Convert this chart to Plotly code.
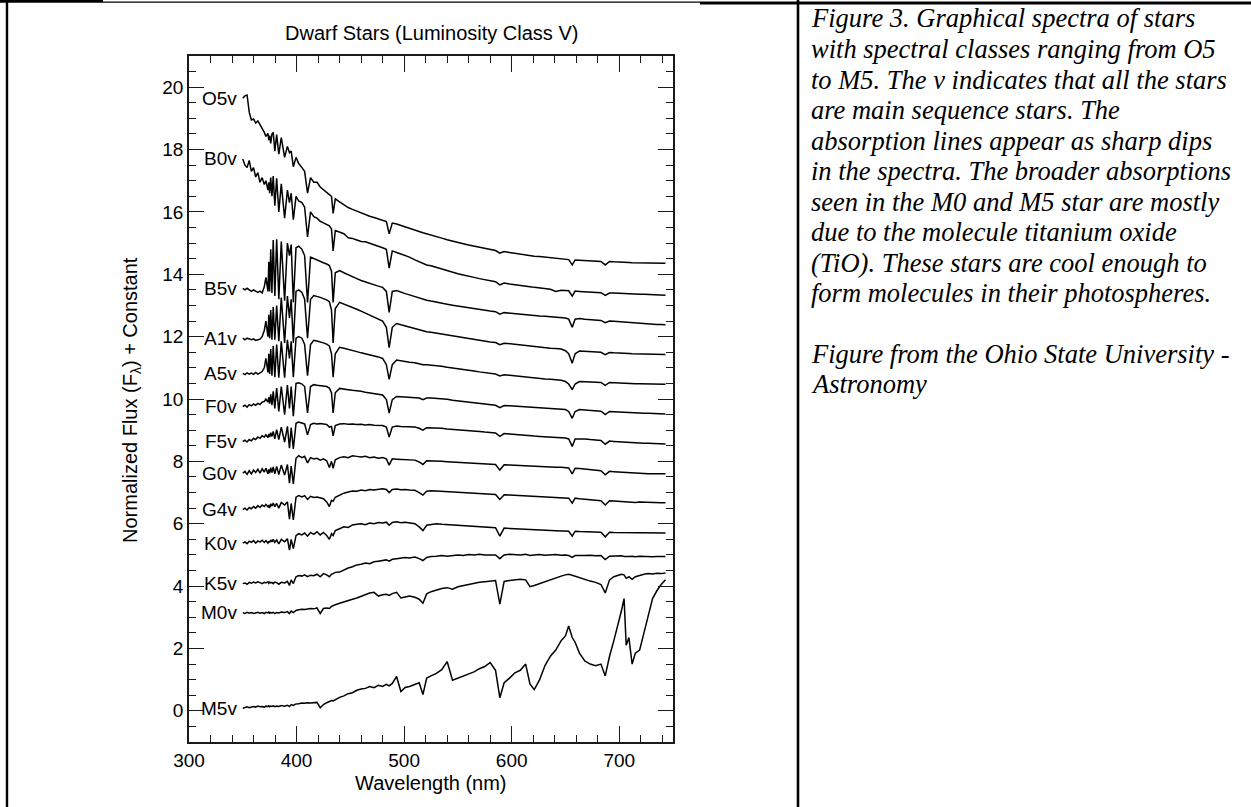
import plotly.graph_objects as go

# ---------------- data ----------------
WAVELENGTH = [
    350, 352, 354, 356, 358, 360, 362, 364, 366, 368,
    370, 371.5, 373.4, 374.2, 375.0, 376.0, 377.1, 378.3, 379.8, 381.5,
    383.5, 385.8, 388.9, 391.5, 393.4, 395.0, 397.0, 399.5, 402, 405,
    407.5, 410.2, 413, 416, 419, 422, 425, 428, 430.5, 432.5,
    434.0, 436, 440, 444, 448, 452, 456, 460, 464, 468,
    472, 476, 480, 483.5, 486.1, 489, 493, 497, 501, 505,
    510, 514, 517.5, 521, 525, 530, 535, 540, 545, 550,
    555, 560, 565, 570, 575, 580, 585, 589, 593, 598,
    603, 608, 613, 617, 621, 626, 631, 636, 641, 646,
    650, 653, 656.3, 659, 663, 668, 673, 678, 683, 687,
    691, 695, 699, 702, 704.5, 706.5, 709, 712, 715, 719,
    723, 727, 731, 735, 739, 743,
]

O5V = [
    19.65, 19.72, 19.75, 19.2, 18.95, 18.98, 18.85, 18.92, 18.8, 18.68,
    18.55, 18.42, 18.52, 18.3, 18.45, 18.2, 18.5, 18.55, 17.95, 18.48,
    17.85, 18.38, 17.75, 18.1, 17.9, 17.95, 17.45, 17.75, 17.55, 17.42,
    17.3, 16.6, 17.1, 16.95, 16.95, 16.8, 16.72, 16.62, 16.56, 16.5,
    15.95, 16.42, 16.32, 16.22, 16.14, 16.08, 16.02, 15.96, 15.92, 15.86,
    15.82, 15.77, 15.72, 15.69, 15.3, 15.64, 15.61, 15.56, 15.52, 15.47,
    15.41, 15.37, 15.33, 15.3, 15.26, 15.21, 15.16, 15.11, 15.06, 15.01,
    14.98, 14.94, 14.9, 14.86, 14.82, 14.79, 14.76, 14.68, 14.73, 14.7,
    14.67, 14.64, 14.61, 14.6, 14.58, 14.57, 14.55, 14.53, 14.51, 14.5,
    14.48, 14.47, 14.3, 14.46, 14.45, 14.44, 14.43, 14.42, 14.41, 14.3,
    14.41, 14.4, 14.4, 14.39, 14.39, 14.38, 14.38, 14.37, 14.37, 14.37,
    14.36, 14.36, 14.36, 14.35, 14.35, 14.35,
]

B0V = [
    17.7, 17.5, 17.42, 17.65, 17.3, 17.42, 17.12, 17.26, 16.95, 17.1,
    16.88, 17.0, 16.7, 16.95, 16.6, 17.1, 16.5, 17.15, 16.2, 17.08,
    16.0, 16.9, 15.8, 16.7, 16.3, 16.6, 15.75, 16.5, 16.35, 16.3,
    16.15, 15.2, 16.0, 15.85, 15.8, 15.7, 15.65, 15.6, 15.55, 15.45,
    14.75, 15.4, 15.35, 15.3, 15.17, 15.15, 15.1, 15.05, 15.04, 15.0,
    14.95, 14.9, 14.85, 14.8, 14.2, 14.75, 14.7, 14.65, 14.6, 14.55,
    14.46, 14.4, 14.35, 14.3, 14.27, 14.22, 14.17, 14.1, 14.07, 14.02,
    13.98, 13.93, 13.9, 13.86, 13.82, 13.79, 13.76, 13.66, 13.72, 13.69,
    13.66, 13.64, 13.62, 13.6, 13.58, 13.56, 13.54, 13.52, 13.45, 13.49,
    13.48, 13.47, 13.3, 13.46, 13.45, 13.44, 13.43, 13.42, 13.41, 13.32,
    13.4, 13.4, 13.39, 13.39, 13.38, 13.38, 13.37, 13.37, 13.37, 13.36,
    13.36, 13.35, 13.35, 13.34, 13.34, 13.33,
]

B5V = [
    13.55, 13.5, 13.55, 13.5, 13.45, 13.5, 13.45, 13.42, 13.46, 13.4,
    13.6, 13.9, 13.45, 14.4, 13.45, 14.8, 13.4, 15.1, 13.3, 15.12,
    13.2, 15.05, 13.15, 15.0, 14.6, 14.95, 13.1, 14.85, 14.9, 14.8,
    14.6, 13.1, 14.55, 14.5, 14.45, 14.4, 14.37, 14.33, 14.28, 14.1,
    13.1, 14.05, 14.12, 14.05, 13.98, 13.92, 13.86, 13.8, 13.75, 13.7,
    13.66, 13.62, 13.58, 13.45, 12.78, 13.45, 13.48, 13.42, 13.38, 13.34,
    13.28, 13.23, 13.2, 13.17, 13.14, 13.1, 13.07, 13.04, 13.01, 12.98,
    12.95, 12.92, 12.89, 12.86, 12.84, 12.82, 12.8, 12.72, 12.77, 12.75,
    12.73, 12.71, 12.7, 12.68, 12.67, 12.66, 12.65, 12.64, 12.63, 12.62,
    12.6, 12.56, 12.3, 12.56, 12.58, 12.56, 12.55, 12.53, 12.52, 12.45,
    12.5, 12.49, 12.48, 12.47, 12.46, 12.45, 12.44, 12.43, 12.42, 12.42,
    12.41, 12.4, 12.4, 12.39, 12.39, 12.38,
]

A1V = [
    11.95, 11.9, 11.95, 11.92, 11.9, 11.93, 11.88, 11.9, 11.92, 12.0,
    12.2, 12.5, 12.0, 12.7, 11.95, 12.85, 11.9, 12.95, 11.9, 13.0,
    11.85, 13.25, 11.8, 13.3, 12.6, 13.2, 11.8, 13.45, 13.5, 13.42,
    13.2, 11.95, 13.2, 13.32, 13.3, 13.26, 13.22, 13.18, 13.12, 12.85,
    11.8, 12.9, 13.1, 13.05, 13.0, 12.94, 12.88, 12.82, 12.76, 12.7,
    12.64, 12.58, 12.5, 12.3, 11.65, 12.3, 12.42, 12.38, 12.34, 12.3,
    12.25, 12.21, 12.18, 12.16, 12.14, 12.11, 12.08, 12.05, 12.02, 11.99,
    11.96, 11.93, 11.9, 11.88, 11.86, 11.83, 11.81, 11.74, 11.79, 11.77,
    11.75, 11.73, 11.71, 11.69, 11.68, 11.66, 11.65, 11.63, 11.62, 11.6,
    11.55, 11.45, 11.15, 11.45, 11.54, 11.53, 11.52, 11.51, 11.5, 11.42,
    11.49, 11.48, 11.48, 11.47, 11.47, 11.46, 11.46, 11.45, 11.45, 11.45,
    11.44, 11.44, 11.44, 11.43, 11.43, 11.43,
]

A5V = [
    10.82, 10.78, 10.84, 10.8, 10.83, 10.79, 10.85, 10.8, 10.84, 10.88,
    11.0, 11.3, 10.85, 11.45, 10.8, 11.6, 10.75, 11.7, 10.7, 11.75,
    10.68, 11.85, 10.68, 11.9, 11.3, 11.85, 10.7, 11.95, 12.0, 11.95,
    11.75, 10.75, 11.75, 11.88, 11.86, 11.84, 11.8, 11.76, 11.7, 11.45,
    10.7, 11.45, 11.66, 11.63, 11.6, 11.55, 11.52, 11.48, 11.45, 11.42,
    11.38, 11.35, 11.3, 11.1, 10.63, 11.1, 11.25, 11.22, 11.2, 11.18,
    11.16, 11.13, 11.1, 11.1, 11.09, 11.07, 11.05, 11.02, 11.0, 10.97,
    10.95, 10.92, 10.9, 10.87, 10.85, 10.83, 10.8, 10.74, 10.78, 10.76,
    10.74, 10.72, 10.7, 10.68, 10.67, 10.66, 10.64, 10.63, 10.62, 10.6,
    10.56, 10.48, 10.3, 10.48, 10.56, 10.56, 10.55, 10.54, 10.53, 10.44,
    10.53, 10.52, 10.52, 10.51, 10.51, 10.5, 10.5, 10.5, 10.49, 10.49,
    10.49, 10.48, 10.48, 10.48, 10.47, 10.47,
]

F0V = [
    9.76, 9.8, 9.74, 9.82, 9.78, 9.84, 9.8, 9.86, 9.82, 9.9,
    9.92, 10.0, 9.9, 10.05, 9.85, 10.15, 9.8, 10.25, 9.7, 10.35,
    9.6, 10.4, 9.5, 10.45, 9.7, 10.4, 9.45, 10.5, 10.52, 10.48,
    10.4, 9.55, 10.4, 10.46, 10.44, 10.43, 10.42, 10.4, 10.35, 10.2,
    9.55, 10.2, 10.34, 10.33, 10.3, 10.28, 10.27, 10.25, 10.22, 10.2,
    10.18, 10.16, 10.13, 9.98, 9.55, 9.98, 10.08, 10.07, 10.06, 10.05,
    10.05, 10.03, 9.98, 10.03, 10.03, 10.02, 10.01, 9.99, 9.96, 9.94,
    9.92, 9.9, 9.88, 9.86, 9.84, 9.82, 9.8, 9.72, 9.79, 9.78,
    9.77, 9.76, 9.75, 9.74, 9.73, 9.72, 9.71, 9.71, 9.7, 9.69,
    9.66, 9.6, 9.38, 9.6, 9.66, 9.65, 9.63, 9.62, 9.61, 9.5,
    9.6, 9.59, 9.58, 9.58, 9.57, 9.57, 9.56, 9.56, 9.55, 9.55,
    9.54, 9.54, 9.53, 9.53, 9.52, 9.52,
]

F5V = [
    8.64, 8.68, 8.62, 8.7, 8.66, 8.74, 8.7, 8.78, 8.74, 8.82,
    8.78, 8.85, 8.76, 8.88, 8.78, 8.92, 8.8, 8.96, 8.72, 9.02,
    8.7, 9.1, 8.62, 9.12, 8.42, 9.08, 8.4, 9.22, 9.26, 9.22,
    9.2, 8.85, 9.18, 9.22, 9.2, 9.21, 9.2, 9.18, 9.1, 9.12,
    8.82, 9.15, 9.2, 9.21, 9.19, 9.2, 9.18, 9.19, 9.17, 9.18,
    9.16, 9.15, 9.15, 9.1, 8.78, 9.1, 9.13, 9.12, 9.11, 9.1,
    9.1, 9.06, 9.0, 9.08, 9.08, 9.07, 9.06, 9.04, 9.03, 9.02,
    9.0, 8.99, 8.97, 8.96, 8.94, 8.93, 8.91, 8.8, 8.89, 8.88,
    8.86, 8.85, 8.84, 8.82, 8.81, 8.8, 8.79, 8.78, 8.77, 8.76,
    8.75, 8.72, 8.48, 8.72, 8.73, 8.72, 8.7, 8.69, 8.67, 8.55,
    8.65, 8.64, 8.63, 8.62, 8.62, 8.61, 8.6, 8.6, 8.59, 8.59,
    8.58, 8.58, 8.57, 8.57, 8.56, 8.56,
]

G0V = [
    7.62, 7.68, 7.58, 7.7, 7.6, 7.72, 7.64, 7.75, 7.62, 7.76,
    7.66, 7.78, 7.6, 7.74, 7.62, 7.8, 7.64, 7.82, 7.6, 7.84,
    7.58, 7.88, 7.56, 7.9, 7.3, 7.85, 7.28, 8.1, 8.18, 8.12,
    8.16, 7.95, 8.12, 8.08, 8.1, 8.04, 8.08, 8.02, 7.8, 8.0,
    7.78, 8.05, 8.12, 8.15, 8.12, 8.18, 8.16, 8.14, 8.16, 8.12,
    8.14, 8.1, 8.12, 8.08, 7.88, 8.08, 8.07, 8.06, 8.05, 8.06,
    8.04, 7.98, 7.9, 8.02, 8.02, 8.01, 8.0, 7.99, 7.98, 7.97,
    7.96, 7.95, 7.94, 7.93, 7.92, 7.91, 7.9, 7.72, 7.89, 7.88,
    7.87, 7.86, 7.85, 7.84, 7.84, 7.83, 7.82, 7.82, 7.81, 7.81,
    7.8, 7.79, 7.6, 7.78, 7.77, 7.75, 7.74, 7.72, 7.7, 7.57,
    7.68, 7.67, 7.66, 7.65, 7.64, 7.64, 7.63, 7.62, 7.62, 7.61,
    7.61, 7.6, 7.6, 7.6, 7.6, 7.6,
]

G4V = [
    6.45, 6.5, 6.44, 6.52, 6.48, 6.55, 6.5, 6.58, 6.52, 6.6,
    6.55, 6.62, 6.54, 6.6, 6.5, 6.64, 6.56, 6.66, 6.55, 6.65,
    6.5, 6.68, 6.6, 6.7, 6.15, 6.65, 6.12, 6.85, 6.9, 6.86,
    6.9, 6.78, 6.88, 6.84, 6.86, 6.82, 6.8, 6.7, 6.55, 6.75,
    6.72, 6.85, 6.92, 6.98, 7.02, 7.05, 7.04, 7.08, 7.06, 7.1,
    7.08, 7.1, 7.12, 7.1, 7.0, 7.1, 7.11, 7.09, 7.1, 7.08,
    7.07, 7.0, 6.92, 7.04, 7.06, 7.05, 7.04, 7.03, 7.02, 7.01,
    7.0, 6.99, 6.98, 6.97, 6.96, 6.95, 6.94, 6.78, 6.93, 6.92,
    6.91, 6.9, 6.89, 6.88, 6.87, 6.86, 6.85, 6.85, 6.84, 6.84,
    6.83, 6.82, 6.66, 6.82, 6.8, 6.78, 6.77, 6.76, 6.74, 6.6,
    6.74, 6.73, 6.72, 6.72, 6.7, 6.71, 6.7, 6.69, 6.68, 6.7,
    6.69, 6.68, 6.68, 6.67, 6.67, 6.67,
]

K0V = [
    5.38, 5.42, 5.36, 5.44, 5.4, 5.46, 5.38, 5.45, 5.41, 5.47,
    5.4, 5.46, 5.38, 5.44, 5.4, 5.48, 5.42, 5.5, 5.4, 5.48,
    5.35, 5.5, 5.42, 5.52, 5.15, 5.5, 5.2, 5.62, 5.68, 5.64,
    5.7, 5.6, 5.72, 5.66, 5.74, 5.64, 5.72, 5.62, 5.5, 5.68,
    5.62, 5.78, 5.84, 5.9, 5.88, 5.96, 5.98, 6.0, 5.97, 6.02,
    6.0, 6.04, 6.02, 6.05, 5.95, 6.04, 6.06, 6.03, 6.05, 6.02,
    6.0, 5.9, 5.78, 5.95, 5.98, 6.0, 5.98, 5.97, 5.96, 5.95,
    5.94, 5.93, 5.91, 5.9, 5.89, 5.88, 5.87, 5.6, 5.86, 5.85,
    5.84, 5.83, 5.82, 5.81, 5.8, 5.8, 5.79, 5.78, 5.78, 5.77,
    5.77, 5.76, 5.6, 5.76, 5.75, 5.75, 5.74, 5.74, 5.73, 5.58,
    5.73, 5.72, 5.72, 5.72, 5.71, 5.71, 5.71, 5.7, 5.7, 5.7,
    5.71, 5.7, 5.7, 5.7, 5.7, 5.7,
]

K5V = [
    4.08, 4.1, 4.06, 4.12, 4.09, 4.13, 4.1, 4.14, 4.11, 4.08,
    4.12, 4.1, 4.14, 4.09, 4.13, 4.1, 4.12, 4.08, 4.13, 4.11,
    4.06, 4.12, 4.1, 4.15, 4.02, 4.2, 4.08, 4.3, 4.34, 4.32,
    4.36, 4.3, 4.35, 4.33, 4.38, 4.3, 4.4, 4.36, 4.3, 4.38,
    4.4, 4.44, 4.45, 4.52, 4.58, 4.62, 4.68, 4.7, 4.74, 4.72,
    4.78, 4.8, 4.82, 4.84, 4.8, 4.86, 4.88, 4.9, 4.92, 4.9,
    4.93, 4.88, 4.82, 4.92, 4.95, 4.96, 4.98, 4.96, 4.99, 5.0,
    4.98, 5.01, 5.0, 5.02, 5.0, 5.01, 5.0, 4.88, 5.0, 5.02,
    5.01, 5.0, 5.02, 4.98, 5.0, 5.01, 4.99, 5.0, 5.01, 4.99,
    5.0, 4.98, 4.92, 4.98, 4.99, 4.98, 4.99, 4.97, 4.98, 4.85,
    4.96, 4.97, 4.96, 4.97, 4.95, 4.96, 4.95, 4.96, 4.94, 4.96,
    4.95, 4.96, 4.94, 4.95, 4.96, 4.95,
]

M0V = [
    3.15, 3.12, 3.16, 3.13, 3.15, 3.12, 3.14, 3.16, 3.13, 3.15,
    3.12, 3.16, 3.14, 3.17, 3.13, 3.15, 3.14, 3.16, 3.12, 3.15,
    3.14, 3.17, 3.15, 3.18, 3.12, 3.2, 3.15, 3.22, 3.24, 3.26,
    3.25, 3.27, 3.28, 3.27, 3.3, 3.12, 3.28, 3.3, 3.28, 3.35,
    3.38, 3.4, 3.45, 3.5, 3.55, 3.58, 3.62, 3.68, 3.74, 3.78,
    3.8, 3.68, 3.72, 3.74, 3.7, 3.76, 3.8, 3.62, 3.65, 3.68,
    3.64, 3.58, 3.45, 3.75, 3.82, 3.88, 3.92, 3.95, 3.9, 3.98,
    4.02, 4.06, 4.1, 4.12, 4.14, 4.16, 4.18, 3.42, 4.15, 4.18,
    4.2, 4.22, 4.2, 3.98, 4.02, 4.08, 4.15, 4.22, 4.28, 4.32,
    4.36, 4.38, 4.35, 4.32, 4.26, 4.2, 4.16, 4.12, 4.05, 3.78,
    4.2, 4.3, 4.34, 4.38, 4.36, 4.25, 4.3, 4.22, 4.3, 4.35,
    4.38, 4.4, 4.39, 4.41, 4.4, 4.42,
]

M5V = [
    0.08, 0.1, 0.13, 0.1, 0.12, 0.14, 0.12, 0.15, 0.13, 0.14,
    0.12, 0.15, 0.14, 0.16, 0.13, 0.15, 0.14, 0.16, 0.13, 0.15,
    0.14, 0.17, 0.15, 0.18, 0.14, 0.2, 0.17, 0.22, 0.23, 0.25,
    0.24, 0.26, 0.25, 0.27, 0.27, 0.1, 0.2, 0.26, 0.3, 0.33,
    0.32, 0.36, 0.43, 0.48, 0.55, 0.58, 0.66, 0.7, 0.72, 0.78,
    0.74, 0.82, 0.78, 0.85, 0.8, 0.88, 1.1, 0.62, 0.75, 0.78,
    0.85, 0.9, 0.52, 1.05, 1.12, 1.2, 1.32, 1.58, 0.98, 1.05,
    1.12, 1.2, 1.25, 1.35, 1.42, 1.55, 1.3, 0.42, 0.9, 1.05,
    1.22, 1.3, 1.5, 0.86, 0.68, 1.0, 1.45, 1.75, 1.95, 2.25,
    2.4, 2.72, 2.35, 2.2, 1.85, 1.6, 1.5, 1.45, 1.5, 1.12,
    1.75, 2.25, 2.75, 3.2, 3.6, 2.1, 2.35, 1.5, 1.85, 1.95,
    2.5, 3.05, 3.6, 3.85, 4.05, 4.2,
]

STAR_NAMES = ["O5v", "B0v", "B5v", "A1v", "A5v", "F0v", "F5v",
              "G0v", "G4v", "K0v", "K5v", "M0v", "M5v"]
STAR_FLUX = [O5V, B0V, B5V, A1V, A5V, F0V, F5V, G0V, G4V, K0V, K5V, M0V, M5V]

TITLE = "Dwarf Stars (Luminosity Class V)"
X_TITLE = "Wavelength (nm)"
Y_TITLE = "Normalized Flux (F<sub>λ</sub>) + Constant"
CAPTION_LINES = [
    "Figure 3. Graphical spectra of stars",
    "with spectral classes ranging from O5",
    "to M5. The v indicates that all the stars",
    "are main sequence stars. The",
    "absorption lines appear as sharp dips",
    "in the spectra. The broader absorptions",
    "seen in the M0 and M5 star are mostly",
    "due to the molecule titanium oxide",
    "(TiO). These stars are cool enough to",
    "form molecules in their photospheres.",
    "",
    "Figure from the Ohio State University -",
    "Astronomy",
]

# ---------------- layout geometry (pixels) ----------------
W, H = 1251, 807
PL, PR, PT, PB = 189, 673, 56, 742


def px_x(p):
    return (p - PL) / (PR - PL)


def px_y(p):
    return (PB - p) / (PB - PT)


SANS = "Liberation Sans, Arial, Helvetica, sans-serif"
SERIF = "Liberation Serif, Times New Roman, serif"
INK = "#1a1a1a"

fig = go.Figure()
for name, flux in zip(STAR_NAMES, STAR_FLUX):
    assert len(flux) == len(WAVELENGTH), name
    fig.add_trace(go.Scatter(
        x=WAVELENGTH, y=flux, mode="lines", name=name,
        line=dict(color="black", width=1.5), showlegend=False,
        hoverinfo="skip"))
    fig.add_annotation(
        x=346, y=flux[0], xref="x", yref="y", text=name, showarrow=False,
        xanchor="right", yanchor="middle", borderpad=0,
        font=dict(family=SANS, size=19, color="black"))

axis_style = dict(
    showgrid=False, zeroline=False, showline=True, linecolor=INK,
    linewidth=1.5, mirror="ticks", ticks="inside", tickcolor=INK,
    tickwidth=1.2, tickfont=dict(family=SANS, size=19, color="black"),
)
fig.update_xaxes(range=[300, 750], tick0=300, dtick=100, ticklen=16,
                 minor=dict(ticks="inside", ticklen=7, dtick=20,
                            tickcolor=INK, tickwidth=1.2),
                 **axis_style)
fig.update_yaxes(range=[-1, 21], tick0=0, dtick=2, ticklen=15,
                 minor=dict(ticks="inside", ticklen=7, dtick=0.5,
                            tickcolor=INK, tickwidth=1.2),
                 **axis_style)

fig.add_annotation(x=px_x(431), y=px_y(33), xref="paper", yref="paper",
                   text=TITLE, showarrow=False, xanchor="center",
                   yanchor="middle",
                   font=dict(family=SANS, size=20, color="black"))
fig.add_annotation(x=px_x(431), y=px_y(783), xref="paper", yref="paper",
                   text=X_TITLE, showarrow=False, xanchor="center",
                   yanchor="middle",
                   font=dict(family=SANS, size=20, color="black"))
fig.add_annotation(x=px_x(131), y=px_y(400), xref="paper", yref="paper",
                   text=Y_TITLE, showarrow=False, textangle=-90,
                   xanchor="center", yanchor="middle",
                   font=dict(family=SANS, size=20, color="black"))

for i, line in enumerate(CAPTION_LINES):
    if not line:
        continue
    fig.add_annotation(x=px_x(810), y=px_y(18.5 + 30.5 * i),
                       xref="paper", yref="paper", text=line,
                       showarrow=False, xanchor="left", yanchor="middle",
                       borderpad=0,
                       font=dict(family=SERIF, size=26.5, color="black",
                                 style="italic"))

# table-like borders around the figure and caption cells
borders = [
    (0, 1.3, 103, 1.3, 2.7),
    (103, 2.2, 700, 2.2, 1.2),
    (700, 3.0, W, 3.0, 3.2),
    (7, 0, 7, H, 2.4),
    (798, 0, 798, H, 2.6),
]
for x0, y0, x1, y1, w in borders:
    fig.add_shape(type="line", xref="paper", yref="paper",
                  x0=px_x(x0), y0=px_y(y0), x1=px_x(x1), y1=px_y(y1),
                  line=dict(color="black", width=w))

fig.update_layout(
    width=W, height=H,
    margin=dict(l=PL, r=W - PR, t=PT, b=H - PB, pad=0),
    paper_bgcolor="white", plot_bgcolor="white", showlegend=False,
)

fig.write_html("out.html")
